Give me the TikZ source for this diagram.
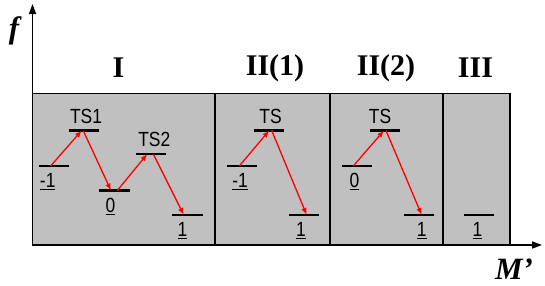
\documentclass[tikz,border=0pt]{standalone}
\usepackage{fontspec}
\setmainfont{Liberation Serif}
\newfontfamily\lvlfont[FakeStretch=0.85]{Liberation Sans}
\usetikzlibrary{arrows.meta,positioning}
\definecolor{panelgray}{RGB}{192,192,192}
\newcommand\ulnum[1]{\leavevmode\vtop{\hbox{#1}\kern1.5pt\hrule height 1pt}}

\begin{document}
\begin{tikzpicture}[x=1pt,y=-1pt, label distance=5pt,
    lvl/.style={fill=black, minimum width=30.3pt, minimum height=2.2pt, inner sep=0pt, outer sep=0pt},
    nlab/.style={font=\lvlfont\fontsize{20.5}{20.5}\selectfont, inner sep=1pt},
    hop/.style={-{Latex[length=7pt,width=5.5pt]}, red, line width=1.3pt},
    roman/.style={font=\fontsize{30}{30}\selectfont\bfseries},
    axlab/.style={font=\fontsize{31}{31}\selectfont\bfseries\itshape, inner sep=0pt},
    axis/.style={line width=1.5pt, -{Triangle[length=10pt,width=7pt]}}]
  \useasboundingbox (0,0) rectangle (545,285);
  % panels
  \draw[fill=panelgray, line width=1.5pt] (32.5,93.3) rectangle (510,245);
  \foreach \x in {215,330,443}
    \draw[line width=1.5pt] (\x,93.3) -- (\x,245);
  % axes
  \coordinate (orig) at (32.5,245);
  \coordinate (ytop) at (32.5,4);
  \coordinate (xend) at (542,245);
  \draw[axis] (orig) -- (ytop);
  \draw[axis] (orig) -- (xend);
  \node[axlab] (flab) at (14,31) {f};
  \node[axlab] (mlab) at (514,269) {M'};
  % region titles
  \node[roman] (tI) at (118.5,68) {I};
  \node[roman] (tIIa) at (275,68) {II(1)};
  \node[roman] (tIIb) at (386,68) {II(2)};
  \node[roman] (tIII) at (475.5,68) {III};
  % region I
  \node[lvl] (Im1) at (53.7,166) [label={[nlab,xshift=-6pt]below:\ulnum{-1}}] {};
  \node[lvl] (ITSa) at (84.2,130.5) [label={[nlab,xshift=1.8pt]above:TS1}] {};
  \node[lvl] (I0) at (114.5,190.5) [label={[nlab,xshift=-4pt]below:\ulnum{0}}] {};
  \node[lvl] (ITSb) at (151,154) [label={[nlab,xshift=3.3pt]above:TS2}] {};
  \node[lvl] (I1) at (187.5,215) [label={[nlab,xshift=-5pt]below:\ulnum{1}}] {};
  \draw[hop] ([xshift=-3pt]Im1.center) -- ([xshift=-2.5pt]ITSa.center);
  \draw[hop] ([xshift=-1pt]ITSa.center) -- ([xshift=-3.5pt]I0.center);
  \draw[hop] ([xshift=2.8pt]I0.center) -- ([xshift=-3.7pt]ITSb.center);
  \draw[hop] ([xshift=2.3pt]ITSb.center) -- ([xshift=-3.7pt]I1.center);
  % region II(1)
  \node[lvl] (IIam1) at (241.7,166) [label={[nlab,xshift=-1.7pt]below:\ulnum{-1}}] {};
  \node[lvl] (IIaTS) at (269,130.5) [label={[nlab,xshift=1.5pt]above:TS}] {};
  \node[lvl] (IIa1) at (304.3,215) [label={[nlab,xshift=-3.3pt]below:\ulnum{1}}] {};
  \draw[hop] ([xshift=-2.4pt]IIam1.center) -- ([xshift=0.3pt]IIaTS.center);
  \draw[hop] ([xshift=2.7pt]IIaTS.center) -- ([xshift=2.4pt]IIa1.center);
  % region II(2)
  \node[lvl] (IIb0) at (357,166) [label={[nlab,xshift=-2.5pt]below:\ulnum{0}}] {};
  \node[lvl] (IIbTS) at (384.7,130.5) [label={[nlab,xshift=-4.7pt]above:TS}] {};
  \node[lvl] (IIb1) at (419.3,215) [label={[nlab,xshift=2.4pt]below:\ulnum{1}}] {};
  \draw[hop] ([xshift=-3.7pt]IIb0.center) -- ([xshift=-0.7pt]IIbTS.center);
  \draw[hop] ([xshift=1.3pt]IIbTS.center) -- ([xshift=2.4pt]IIb1.center);
  % region III
  \node[lvl] (III1) at (478.7,215) [label={[nlab,xshift=-1.2pt]below:\ulnum{1}}] {};
\end{tikzpicture}
\end{document}
